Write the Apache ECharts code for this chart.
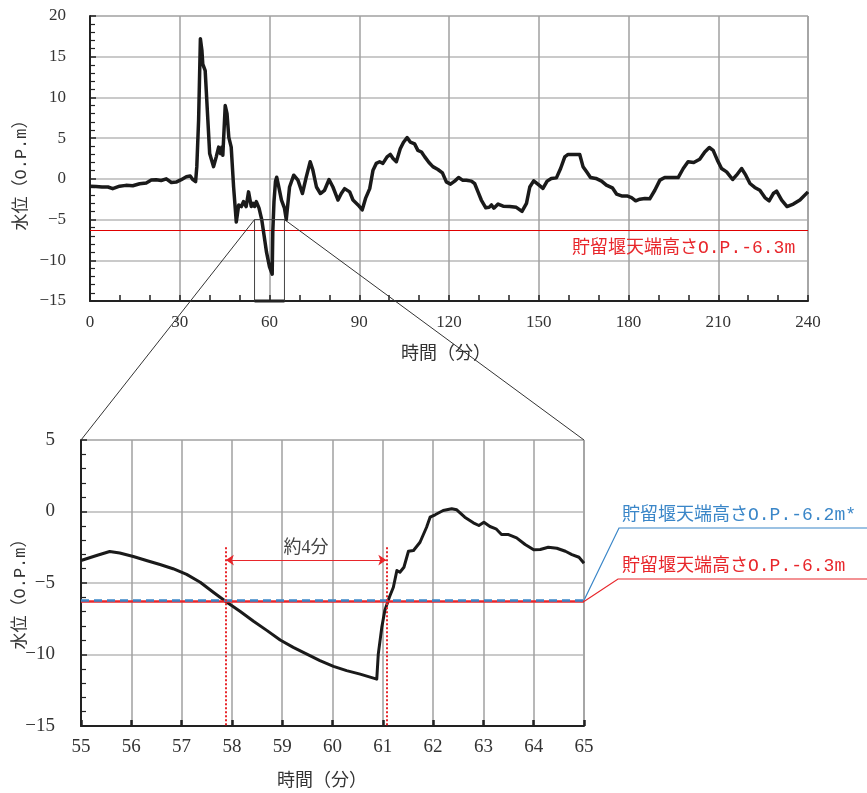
<!DOCTYPE html>
<html><head><meta charset="utf-8">
<script src="https://cdn.jsdelivr.net/npm/echarts@6/dist/echarts.min.js"></script>
<style>html,body{margin:0;padding:0;background:#fff}#c{width:867px;height:793px}</style>
</head><body><div id="c"></div>
<script>
// ---- data ----
const topTime = [0,2,4,6,7.6,9.9,12,14.3,16.6,18.8,20.5,22.1,23.8,25.5,27.2,28.8,30.5,32.2,33.5,34.4,35.3,35.7,36.3,36.9,37.4,37.7,38.5,39.4,40,41.3,42.2,43,43.6,44.1,44.4,45.2,45.8,46.4,47.2,48,48.9,49.7,50.6,51.3,52.2,53,53.9,54.5,55,55.6,56.5,57.4,58.2,59,60,60.9,61.1,61.5,62,62.4,63,64,65,65.6,66.7,68.1,69.5,71,72.3,73.6,74.5,75.7,77,78.4,79.9,81.2,82.9,84,85.1,86.8,87.9,89.6,91,92.1,93.5,94.6,95.7,96.8,97.9,99.3,100.4,101.3,102.4,103.7,104.8,106,107.1,108.5,109.6,110.8,111.9,113.3,114.6,116.3,117.8,119.1,120.5,121.9,123.2,124.5,125.8,127.5,128.6,129.7,130.8,132.3,133.4,134.2,135,136.4,138.1,140.3,142.5,144.4,145.9,147,148.3,149.8,151.4,152.8,154.2,155.9,157.3,158.7,159.8,161.5,163.7,164.8,166,167.3,169.1,171,172.6,174.6,176,177.7,179.5,181,182.4,183.8,185.5,187.1,188.8,190.5,192.1,194.4,196.6,198.3,199.9,201.8,203.8,205.5,207,208.3,209.7,211.1,212.8,214.8,216.1,217.8,219.2,220.6,222.2,223.9,225.6,227,228.4,229.5,231.2,233,235.1,237.3,240];
const topLevel = [-0.9,-0.95,-1.0,-1.0,-1.2,-0.9,-0.8,-0.85,-0.6,-0.5,-0.15,-0.1,-0.2,0.0,-0.45,-0.4,-0.1,0.25,0.35,-0.1,-0.35,1.5,7.2,17.2,15.8,14.1,13.3,7.2,3.1,1.5,2.7,3.9,3.1,3.9,2.9,9.0,8.0,5.1,3.9,-1.0,-5.3,-3.2,-3.4,-2.8,-3.4,-1.6,-3.4,-3.0,-3.4,-2.8,-3.6,-5.0,-7.0,-9.0,-10.8,-11.7,-6.5,-2.8,-0.3,0.2,-0.8,-2.6,-3.6,-5.0,-1.0,0.45,-0.16,-1.8,0.25,2.1,1.07,-1.0,-1.8,-1.4,-0.08,-1.0,-2.6,-1.8,-1.2,-1.6,-2.6,-3.2,-3.8,-2.4,-1.2,1.07,1.9,2.1,1.9,2.7,3.0,2.5,2.1,3.7,4.5,5.07,4.5,4.3,3.5,3.3,2.7,2.0,1.5,1.15,0.74,-0.37,-0.65,-0.28,0.16,-0.16,-0.16,-0.28,-0.6,-1.6,-2.6,-3.55,-3.5,-3.2,-3.6,-3.1,-3.35,-3.4,-3.5,-4.0,-3.0,-1.0,-0.24,-0.69,-1.18,-0.28,0.05,0.12,1.27,2.7,3.0,3.0,3.0,1.5,0.86,0.16,0.05,-0.28,-0.77,-1.1,-1.87,-2.1,-2.1,-2.3,-2.7,-2.5,-2.4,-2.45,-1.4,-0.16,0.16,0.16,0.16,1.27,2.1,2.0,2.4,3.3,3.85,3.5,2.3,1.27,0.86,-0.08,0.45,1.27,0.45,-0.57,-1.05,-1.4,-2.3,-2.7,-1.8,-1.5,-2.6,-3.4,-3.1,-2.6,-1.6];

const zoomTime = [55,55.31,55.57,55.77,56.04,56.3,56.57,56.83,57.1,57.37,57.63,57.9,58.16,58.43,58.7,58.96,59.22,59.49,59.75,60.02,60.28,60.55,60.88,60.91,60.98,61.04,61.13,61.21,61.28,61.34,61.42,61.51,61.61,61.74,61.87,61.94,62.04,62.2,62.37,62.47,62.63,62.8,62.91,63.01,63.13,63.25,63.36,63.5,63.66,63.83,64,64.13,64.29,64.46,64.63,64.76,64.9,65];
const zoomLevel = [-3.43,-3.08,-2.8,-2.9,-3.15,-3.43,-3.71,-4.0,-4.4,-4.95,-5.65,-6.35,-6.98,-7.68,-8.33,-8.99,-9.5,-9.97,-10.43,-10.83,-11.13,-11.37,-11.72,-9.97,-8.1,-6.93,-6.0,-5.3,-4.13,-4.25,-3.9,-2.78,-2.73,-2.15,-1.1,-0.4,-0.23,0.07,0.19,0.12,-0.4,-0.79,-0.98,-0.75,-1.05,-1.21,-1.61,-1.61,-1.84,-2.31,-2.68,-2.66,-2.5,-2.57,-2.78,-3.01,-3.2,-3.62];

const crestLevel = -6.3;      // 貯留堰天端高さ O.P.-6.3m
const crestLevelAlt = -6.2;   // 貯留堰天端高さ O.P.-6.2m*
const belowStart = 57.88;     // 約4分 start
const belowEnd = 61.07;       // 約4分 end
const zoomBox = {x0:55, x1:65, y0:-15, y1:-5};
const zoomRangeY = {min:-15, max:5};

const label63 = '貯留堰天端高さO.P.-6.3m';
const label62 = '貯留堰天端高さO.P.-6.2m*';
const yName = '水位（O.P.m）';
const xName = '時間（分）';
const spanLabel = '約4分';

const zip = (a, b) => a.map((v, i) => [v, b[i]]);
const minus = v => String(v).replace('-', '\u2212');

const chart = echarts.init(document.getElementById('c'));
const RED = '#e8262b', BLUE = '#3a86c8', INK = '#1a1a1a';
const mixFont = "'Liberation Mono','Noto Sans CJK JP'";

const axisLineStyle = {color:'#222', width:2};
chart.setOption({
  animation:false,
  grid:[
    {left:90, top:16, width:718, height:285, show:true, borderColor:'#777', borderWidth:1},
    {left:81, top:440, width:503, height:286, show:true, borderColor:'#777', borderWidth:1}
  ],
  xAxis:[
    {type:'value', gridIndex:0, min:0, max:240, interval:30,
     axisLine:{show:true, onZero:false, lineStyle:axisLineStyle},
     axisTick:{show:true, inside:true, length:6, lineStyle:{color:'#222', width:1.5}},
     minorTick:{show:true, splitNumber:3, length:6, lineStyle:{color:'#222', width:1.5}},
     splitLine:{show:true, lineStyle:{color:'#a0a0a0', width:1.5}},
     axisLabel:{margin:13, fontFamily:'Liberation Serif', fontSize:17, color:'#333'}},
    {type:'value', gridIndex:1, min:55, max:65, interval:1,
     axisLine:{show:true, onZero:false, lineStyle:axisLineStyle},
     axisTick:{show:true, inside:true, length:6, lineStyle:{color:'#222', width:2.5}},
     splitLine:{show:true, lineStyle:{color:'#a0a0a0', width:1.5}},
     axisLabel:{margin:12, fontFamily:'Liberation Serif', fontSize:19, color:'#333'}}
  ],
  yAxis:[
    {type:'value', gridIndex:0, min:-15, max:20, interval:5,
     axisLine:{show:true, onZero:false, lineStyle:axisLineStyle},
     axisTick:{show:true, inside:true, length:6, lineStyle:{color:'#222', width:1.5}},
     minorTick:{show:true, splitNumber:5, length:5, lineStyle:{color:'#222', width:1.2}},
     splitLine:{show:true, lineStyle:{color:'#b8b8b8', width:1.5}},
     axisLabel:{margin:24, fontFamily:'Liberation Serif', fontSize:17, color:'#333', formatter:minus}},
    {type:'value', gridIndex:1, min:zoomRangeY.min, max:zoomRangeY.max, interval:5,
     axisLine:{show:true, onZero:false, lineStyle:axisLineStyle},
     axisTick:{show:true, inside:true, length:6, lineStyle:{color:'#222', width:1.5}},
     minorTick:{show:true, splitNumber:5, length:5, lineStyle:{color:'#222', width:1.2}},
     splitLine:{show:true, lineStyle:{color:'#b8b8b8', width:1.5}},
     axisLabel:{margin:26, fontFamily:'Liberation Serif', fontSize:19, color:'#333', formatter:minus}}
  ],
  series:[
    {type:'line', xAxisIndex:0, yAxisIndex:0, data:zip(topTime, topLevel),
     showSymbol:false, symbol:'none', smooth:false, z:3,
     lineStyle:{color:INK, width:3.5, join:'round'},
     markLine:{silent:true, symbol:'none', animation:false, label:{show:false}, z:2,
       lineStyle:{color:'#e00000', width:1, type:'solid'},
       data:[{yAxis:crestLevel}]}
    },
    {type:'line', xAxisIndex:1, yAxisIndex:1, data:zip(zoomTime, zoomLevel),
     showSymbol:false, symbol:'none', smooth:false, z:3,
     lineStyle:{color:INK, width:3, join:'round'},
     markLine:{silent:true, symbol:'none', animation:false, label:{show:false},
       data:[
         {yAxis:crestLevel, lineStyle:{color:RED, width:2.5, type:'solid'}},
         {yAxis:crestLevelAlt, lineStyle:{color:BLUE, width:2.5, type:[8,5]}},
         [{coord:[belowStart, -2.5], lineStyle:{color:RED, width:2, type:[2,2]}},{coord:[belowStart, -15]}],
         [{coord:[belowEnd, -2.5], lineStyle:{color:RED, width:2, type:[2,2]}},{coord:[belowEnd, -15]}],
         [{coord:[belowStart, -3.4], symbol:'arrow', symbolSize:8,
           lineStyle:{color:RED, width:1, type:'solid'},
           label:{show:true, formatter:spanLabel, position:'middle', distance:3, color:'#444', fontSize:18,
                  fontFamily:"'Liberation Serif','Noto Sans CJK JP'"}},
          {coord:[belowEnd, -3.4], symbol:'arrow', symbolSize:8}]
       ]}
    }
  ]
});

const px = (i, v) => chart.convertToPixel({xAxisIndex:i, yAxisIndex:i}, v);
const a1 = px(0, [zoomBox.x0, zoomBox.y1]), a2 = px(0, [zoomBox.x1, zoomBox.y1]);
const a0 = px(0, [zoomBox.x0, zoomBox.y0]), a3 = px(0, [zoomBox.x1, zoomBox.y0]);
const b1 = px(1, [zoomBox.x0, zoomRangeY.max]), b2 = px(1, [zoomBox.x1, zoomRangeY.max]);
const c62 = px(1, [zoomBox.x1, crestLevelAlt]), c63 = px(1, [zoomBox.x1, crestLevel]);

const txt = (x, y, text, fill, font, rot) => ({
  type:'text', x, y, rotation: rot || 0, silent:true, z:10,
  style:{text, fill, font, align: rot ? 'center' : 'left', verticalAlign:'middle',
         textAlign: rot ? 'center' : 'left', textVerticalAlign:'middle'}
});
const ctxt = (x, y, text, font) => ({
  type:'text', x, y, silent:true, z:10,
  style:{text, fill:'#333', font, align:'center', verticalAlign:'middle', textAlign:'center', textVerticalAlign:'middle'}
});

chart.setOption({graphic:[
  {type:'polyline', silent:true, z:4, shape:{points:[a0, a1, a2, a3]}, style:{stroke:'#444', lineWidth:1, fill:null}},
  {type:'line', silent:true, z:4, shape:{x1:a0[0], y1:a0[1], x2:a3[0], y2:a3[1]}, style:{stroke:'#222', lineWidth:3}},
  {type:'line', silent:true, z:5, shape:{x1:a1[0], y1:a1[1], x2:b1[0], y2:b1[1]}, style:{stroke:'#333', lineWidth:1}},
  {type:'line', silent:true, z:5, shape:{x1:a2[0], y1:a2[1], x2:b2[0], y2:b2[1]}, style:{stroke:'#333', lineWidth:1}},
  {type:'polyline', silent:true, z:5, shape:{points:[c62, [619, 528], [867, 528]]}, style:{stroke:BLUE, lineWidth:1.2, fill:null}},
  {type:'polyline', silent:true, z:5, shape:{points:[c63, [618, 579], [867, 579]]}, style:{stroke:RED, lineWidth:1.2, fill:null}},
  txt(572, 248, label63, RED, '18px ' + mixFont),
  txt(622, 515, label62, BLUE, '18px ' + mixFont),
  txt(622, 566, label63, RED, '18px ' + mixFont),
  txt(21, 171, yName, '#333', '17px ' + mixFont, Math.PI / 2),
  txt(20, 590, yName, '#333', '17px ' + mixFont, Math.PI / 2),
  ctxt(446, 352, xName, "18px 'Noto Sans CJK JP'"),
  ctxt(322, 779, xName, "18px 'Noto Sans CJK JP'")
]});
</script></body></html>
